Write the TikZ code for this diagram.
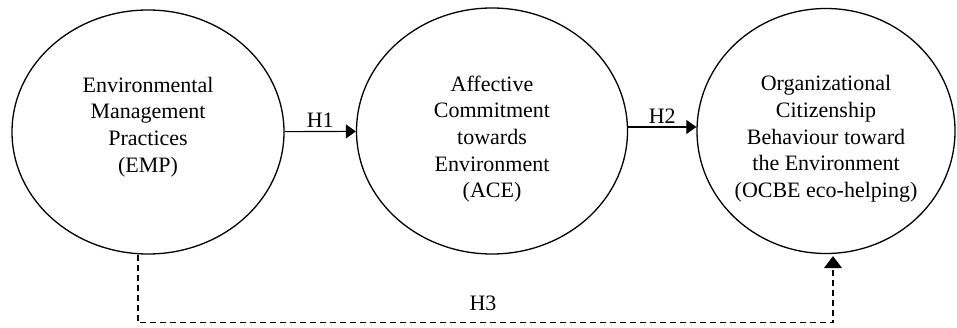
\documentclass[tikz,border=0pt]{standalone}
\usepackage{fontspec}
\setmainfont{Liberation Serif}
\usetikzlibrary{shapes.geometric,arrows.meta}

\begin{document}
\begin{tikzpicture}[x=1pt,y=1pt,
    construct/.style={draw,ellipse,line width=1.3pt,inner sep=0pt},
    lbl/.style={font=\fontsize{22}{26.7}\selectfont,align=center},
    hyp/.style={line width=1.1pt,-{Triangle[length=10pt,width=14pt]}}]
  \useasboundingbox (0,0) rectangle (957,327);

  \node[construct,minimum width=272,minimum height=244] (emp) at (148,195) {};
  \node[construct,minimum width=271,minimum height=246] (ace) at (492,196) {};
  \node[construct,minimum width=258,minimum height=245] (ocbe) at (826,196) {};

  \node[lbl] (emptxt) at ([yshift=5pt]emp.center)
    {Environmental\\Management\\Practices\\(EMP)};
  \node[lbl] (acetxt) at ([yshift=-8pt]ace.center)
    {Affective\\Commitment\\towards\\Environment\\(ACE)};
  \node[lbl] (ocbetxt) at ([yshift=-8pt]ocbe.center)
    {Organizational\\Citizenship\\Behaviour toward\\the Environment\\(OCBE eco-helping)};

  % direct paths
  \draw[hyp] (emp) -- node[lbl,above] (h1) {H1} (ace);
  \draw[hyp] ([yshift=4pt]ace.east) -- node[lbl,above] (h2) {H2} ([yshift=4pt]ocbe.west);

  % indirect path below
  \draw[hyp,dash pattern=on 6pt off 4pt,-{Triangle[length=12pt,width=18pt]}]
    ([xshift=-10pt]emp.south) -- ++(0,-68) coordinate (h3a)
    -| ([xshift=7pt,yshift=-2pt]ocbe.south);
  \node[lbl] (h3) at (483,24) {H3};
\end{tikzpicture}
\end{document}
